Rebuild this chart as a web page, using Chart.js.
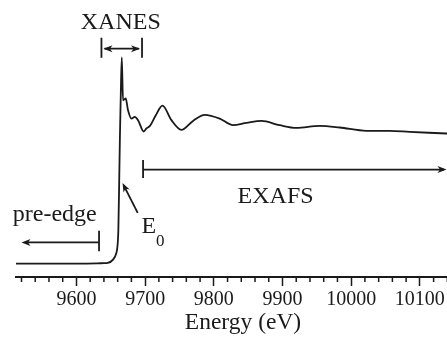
<!DOCTYPE html>
<html>
<head>
<meta charset="utf-8">
<script src="https://cdn.jsdelivr.net/npm/chart.js@4"></script>
<style>
  html, body { margin: 0; padding: 0; background: #fff; overflow: hidden; }
  #wrap { width: 470px; height: 337px; }
</style>
</head>
<body>
<div id="wrap"><canvas id="xasChart"></canvas></div>
<script>
// Absorption spectrum (normalised, edge step ~1)
const energy = [9512, 9560, 9600, 9630, 9640, 9645.6, 9653.3, 9658.2, 9659.5, 9661, 9662.2, 9663.3, 9664.5, 9666,
    9667.8, 9671.8, 9675.1, 9680.1, 9684.9, 9689.7, 9698, 9701.9, 9706.7, 9715.4, 9725.2, 9738.3, 9752.8,
    9769.7, 9786.8, 9808.6, 9828, 9847.5, 9869.3, 9895.9, 9920.2, 9954.1, 9983.3, 10022.1, 10056, 10085.2,
    10138.6, 10173];
const absorption = [0, 0, 0, 0.002, 0.004, 0.006, 0.03, 0.082, 0.12, 0.25, 0.6, 0.95, 1.25, 1.545,
    1.224, 1.237, 1.149, 1.087, 1.099, 1.075, 0.99, 1.013, 1.03, 1.11, 1.183, 1.075, 1.002,
    1.069, 1.115, 1.087, 1.037, 1.054, 1.069, 1.037, 1.017, 1.032, 1.02, 0.995, 0.995, 0.987,
    0.975, 0.966];
const tickStep = 20;      // minor ticks
const labelStep = 100;    // labelled ticks

const serif = '"Liberation Serif", "Times New Roman", serif';
const ink = '#1a1a1a';

const isMajor = v => Math.round(v) % labelStep === 0;

function arrowHead(ctx, x, y, angle) {
    ctx.save();
    ctx.translate(x, y);
    ctx.rotate(angle);
    ctx.beginPath();
    ctx.moveTo(0, 0);
    ctx.lineTo(-9, -3.5);
    ctx.lineTo(-6.5, 0);
    ctx.lineTo(-9, 3.5);
    ctx.closePath();
    ctx.fill();
    ctx.restore();
}

// minor ticks + labels / brackets drawn on top
const annotations = {
    id: 'annotations',
    afterDraw(chart) {
        const ctx = chart.ctx;
        const xs = chart.scales.x, ys = chart.scales.y;
        const px = e => xs.getPixelForValue(e);
        const py = v => ys.getPixelForValue(v);
        const base = xs.top;

        ctx.save();
        ctx.strokeStyle = ink;
        ctx.fillStyle = ink;

        // minor ticks
        ctx.lineWidth = 1.5;
        xs.ticks.forEach(t => {
            if (!isMajor(t.value)) {
                const x = px(t.value);
                ctx.beginPath();
                ctx.moveTo(x, base);
                ctx.lineTo(x, base + 5);
                ctx.stroke();
            }
        });

        ctx.lineWidth = 1.8;
        const line = (x1, y1, x2, y2) => {
            ctx.beginPath();
            ctx.moveTo(x1, y1);
            ctx.lineTo(x2, y2);
            ctx.stroke();
        };

        // XANES bracket
        const xa = px(9636.4), xb = px(9695.5), ya = py(1.61);
        line(xa, py(1.692), xa, py(1.542));
        line(xb, py(1.692), xb, py(1.542));
        line(xa + 3, ya, xb - 3, ya);
        arrowHead(ctx, xa + 2, ya, Math.PI);
        arrowHead(ctx, xb - 2, ya, 0);

        // EXAFS arrow
        const xe = px(9697), ye = py(0.705);
        line(xe, py(0.776), xe, py(0.642));
        line(xe, ye, 444, ye);
        arrowHead(ctx, 446.5, ye, 0);

        // pre-edge arrow
        const xp = px(9632.9), yp = py(0.159);
        line(xp, py(0.246), xp, py(0.092));
        line(xp, yp, px(9520) + 4, yp);
        arrowHead(ctx, px(9520), yp, Math.PI);

        // E0 arrow
        const tx = px(9689.2), ty = py(0.381), hx = px(9667.1), hy = py(0.604);
        const ang = Math.atan2(hy - ty, hx - tx);
        line(tx, ty, hx - 4 * Math.cos(ang), hy - 4 * Math.sin(ang));
        arrowHead(ctx, hx, hy, ang);

        // texts
        ctx.font = '24px ' + serif;
        ctx.textBaseline = 'alphabetic';
        ctx.textAlign = 'center';
        ctx.fillText('XANES', px(9664.5), py(1.761));
        ctx.fillText('EXAFS', px(9890), py(0.457));
        ctx.fillText('pre-edge', px(9568.4), py(0.321));
        ctx.textAlign = 'left';
        ctx.fillText('E', px(9694.6), py(0.231));
        ctx.font = '17px ' + serif;
        ctx.fillText('0', px(9715.8), py(0.134));
        ctx.restore();
    }
};

new Chart(document.getElementById('xasChart'), {
    type: 'line',
    data: {
        datasets: [{
            data: energy.map((e, i) => ({ x: e, y: absorption[i] })),
            borderColor: ink,
            borderWidth: 1.8,
            pointRadius: 0,
            cubicInterpolationMode: 'monotone',
            fill: false
        }]
    },
    options: {
        responsive: true,
        maintainAspectRatio: false,
        animation: false,
        layout: { padding: { left: 16, right: 0, top: 10, bottom: 0 } },
        plugins: {
            legend: { display: false },
            tooltip: { enabled: false }
        },
        scales: {
            x: {
                type: 'linear',
                min: 9512,
                max: 10173,
                afterFit: scale => { scale.height = 60; },
                border: { display: true, color: ink, width: 2 },
                grid: {
                    drawOnChartArea: false,
                    drawTicks: true,
                    tickLength: 9,
                    tickWidth: 1.5,
                    tickColor: c => (c.tick && isMajor(c.tick.value)) ? ink : 'rgba(0,0,0,0)'
                },
                ticks: {
                    stepSize: tickStep,
                    includeBounds: false,
                    autoSkip: false,
                    maxRotation: 0,
                    padding: 2,
                    color: ink,
                    font: { family: serif, size: 20 },
                    callback: v => (isMajor(v) ? String(Math.round(v)) : '')
                },
                title: {
                    display: true,
                    text: 'Energy (eV)',
                    color: ink,
                    font: { family: serif, size: 23.5 },
                    padding: { top: 0, bottom: 0 }
                }
            },
            y: {
                display: false,
                min: -0.1,
                max: 1.9
            }
        }
    },
    plugins: [annotations]
});
</script>
</body>
</html>
